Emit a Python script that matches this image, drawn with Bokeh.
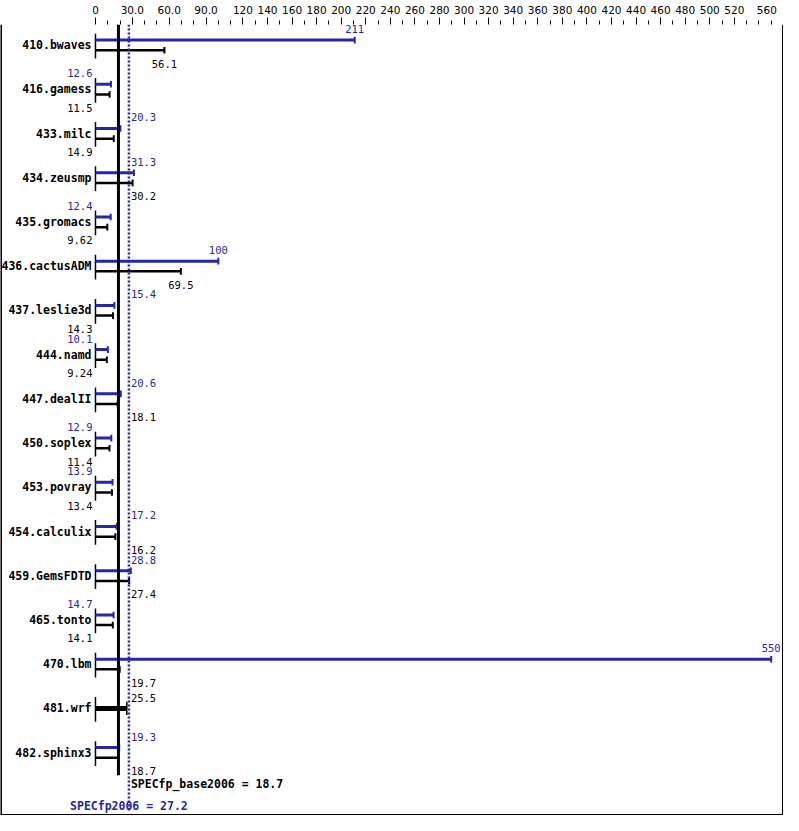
from bokeh.plotting import figure
from bokeh.models import Range1d, LinearAxis, FixedTicker, Span
from bokeh.core.properties import value
from bokeh.embed import file_html
from bokeh.resources import INLINE

benchmarks = ["410.bwaves", "416.gamess", "433.milc", "434.zeusmp", "435.gromacs",
              "436.cactusADM", "437.leslie3d", "444.namd", "447.dealII", "450.soplex",
              "453.povray", "454.calculix", "459.GemsFDTD", "465.tonto", "470.lbm",
              "481.wrf", "482.sphinx3"]
peak = [211, 12.6, 20.3, 31.3, 12.4, 100, 15.4, 10.1, 20.6, 12.9, 13.9, 17.2, 28.8,
        14.7, 550, None, 19.3]
base = [56.1, 11.5, 14.9, 30.2, 9.62, 69.5, 14.3, 9.24, 18.1, 11.4, 13.4, 16.2, 27.4,
        14.1, 19.7, 25.5, 18.7]
peak_text = ["211", "12.6", "20.3", "31.3", "12.4", "100", "15.4", "10.1", "20.6", "12.9",
             "13.9", "17.2", "28.8", "14.7", "550", None, "19.3"]
base_text = ["56.1", "11.5", "14.9", "30.2", "9.62", "69.5", "14.3", "9.24", "18.1", "11.4",
             "13.4", "16.2", "27.4", "14.1", "19.7", "25.5", "18.7"]
spec_base = 18.7
spec_peak = 27.2
label_ticks = [0, 30, 60, 90] + list(range(120, 521, 20)) + [560]
minor_ticks = [t for t in range(10, 560, 10) if t not in label_ticks]
label_names = {0: "0", 30: "30.0", 60: "60.0", 90: "90.0", 560: "560\u2007"}

BLUE = "#2626a8"
MONO = value("DejaVu Sans Mono")

X0, X1 = -77.3, 560
YT, YB = -0.467, 17.42

p = figure(width=783, height=815, output_backend="svg", toolbar_location=None,
           x_range=Range1d(X0, X1), y_range=Range1d(YB, YT),
           x_axis_type=None, y_axis_type=None,
           min_border_left=0, min_border_right=0, min_border_bottom=0, min_border_top=0)
p.outline_line_color = None
p.background_fill_color = "white"
p.border_fill_color = "white"

ax = LinearAxis(ticker=FixedTicker(ticks=label_ticks, minor_ticks=minor_ticks))
ax.axis_line_color = None
ax.major_tick_out = 7
ax.major_tick_in = 0
ax.minor_tick_out = 4
ax.minor_tick_in = 0
ax.major_tick_line_color = "black"
ax.minor_tick_line_color = "black"
ax.major_label_standoff = 2
ax.major_label_overrides = label_names
ax.major_label_text_font = "DejaVu Sans"
ax.major_label_text_font_size = "10.5px"
ax.major_label_text_color = "black"
p.add_layout(ax, "above")

# frame border (left, right, bottom)
for loc, dim in ((X0, "height"), (X1, "height"), (YB, "width")):
    p.add_layout(Span(location=loc, dimension=dim, line_color="black", line_width=3))

n = len(benchmarks)
ys = list(range(n))

# left caps at zero
p.segment(x0=[0] * n, y0=[y - 0.26 for y in ys], x1=[0] * n, y1=[y + 0.3 for y in ys],
          line_color="black", line_width=1.5)

# benchmark names
p.text(x=[0] * n, y=ys, text=benchmarks, x_offset=-4, text_align="right",
       text_baseline="middle", text_font=MONO, text_font_style="bold",
       text_font_size="11.5px", text_color="black")


def place(v):
    if v < 15:
        return 0, "right", -3
    if v < 40:
        return spec_peak, "left", 2
    return v, "center", 0


def draw(vals, ypos, color, width, labels, label_dy):
    p.segment(x0=[0] * len(vals), y0=ypos, x1=vals, y1=ypos, line_color=color,
              line_width=width)
    p.segment(x0=vals, y0=[y - 0.075 for y in ypos], x1=vals, y1=[y + 0.075 for y in ypos],
              line_color=color, line_width=2)
    for v, y, t in zip(vals, ypos, labels):
        lx, al, off = place(v)
        p.text(x=[lx], y=[y + label_dy], text=[t], x_offset=off, text_align=al,
               text_baseline="middle", text_font=MONO, text_font_size="10.5px",
               text_color=color)


# peak (blue)
pv = [(v, i - 0.115, t) for i, (v, t) in enumerate(zip(peak, peak_text)) if v is not None]
draw([a for a, _, _ in pv], [b for _, b, _ in pv], BLUE, 3, [c for _, _, c in pv], -0.25)

# base (black) paired with a peak bar
bv = [(v, i + 0.115, t) for i, (v, t) in enumerate(zip(base, base_text)) if peak[i] is not None]
draw([a for a, _, _ in bv], [b for _, b, _ in bv], "black", 2.5, [c for _, _, c in bv], 0.3)

# base only (single thick bar)
sv = [(v, i, t) for i, (v, t) in enumerate(zip(base, base_text)) if peak[i] is None]
for v, y, t in sv:
    p.segment(x0=[0], y0=[y], x1=[v], y1=[y], line_color="black", line_width=5)
    p.segment(x0=[v], y0=[y - 0.15], x1=[v], y1=[y + 0.15], line_color="black", line_width=1.5)
    lx, al, off = place(v)
    p.text(x=[lx], y=[y - 0.245], text=[t], x_offset=off, text_align=al,
           text_baseline="middle", text_font=MONO, text_font_size="10.5px",
           text_color="black")

# overall means
p.segment(x0=[spec_base], y0=[YT], x1=[spec_base], y1=[16.51], line_color="black", line_width=3)
p.segment(x0=[spec_peak], y0=[YT], x1=[spec_peak], y1=[17.31], line_color=BLUE,
          line_width=2.5, line_dash="2 2")
p.text(x=[spec_peak], y=[16.71], text=[f"SPECfp_base2006 = {spec_base}"], x_offset=2,
       text_align="left", text_baseline="middle", text_font=MONO, text_font_style="bold",
       text_font_size="11.5px", text_color="black")
p.text(x=[spec_peak], y=[17.2], text=[f"SPECfp2006 = {spec_peak}"], text_align="center",
       text_baseline="middle", text_font=MONO, text_font_style="bold",
       text_font_size="11.5px", text_color=BLUE)

open("out.html", "w").write(file_html(p, INLINE))
